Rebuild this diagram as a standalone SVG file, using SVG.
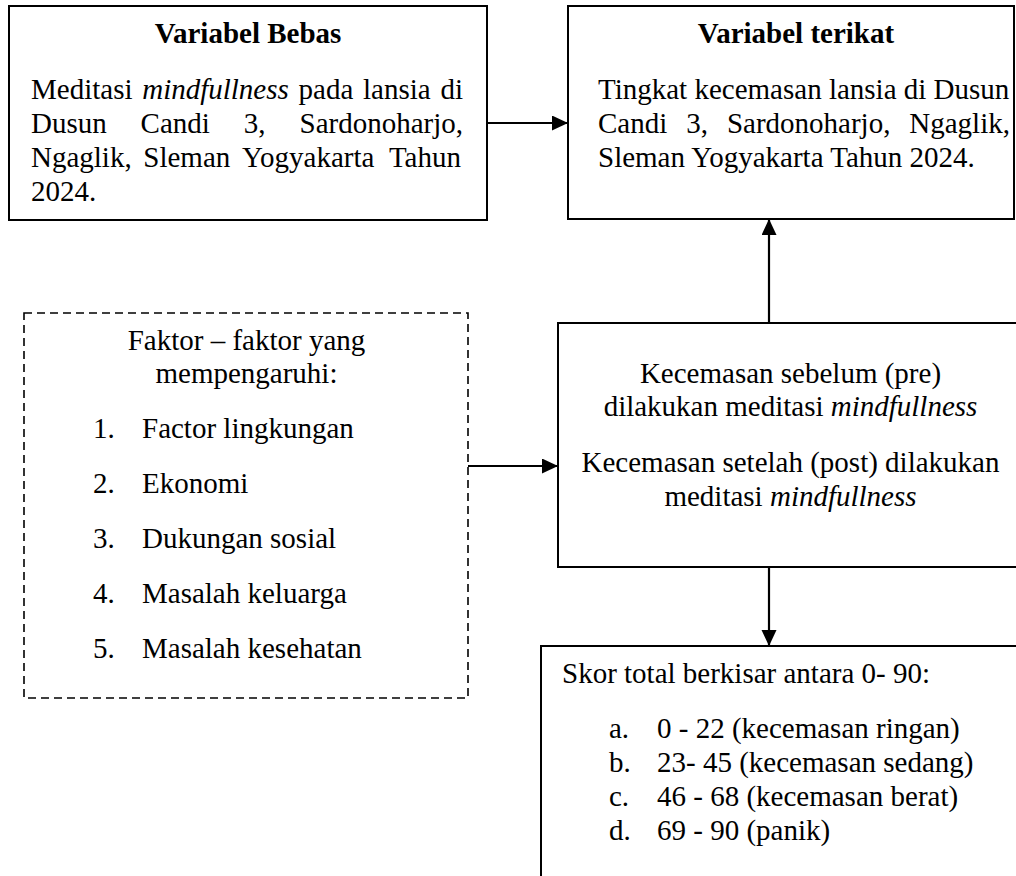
<svg xmlns="http://www.w3.org/2000/svg" width="1016" height="876" viewBox="0 0 1016 876">
<style>
text{font-family:"Liberation Serif","Times New Roman",serif;font-size:29px;fill:#000}
.b{font-weight:bold}
.i{font-style:italic}
.box{fill:#fff;stroke:#000;stroke-width:2}
.dash{fill:#fff;stroke:#000;stroke-width:1.6;stroke-dasharray:8 5}
.con{stroke:#000;stroke-width:2.2;fill:none;marker-end:url(#ah)}
</style>
<defs>
<marker id="ah" markerUnits="userSpaceOnUse" markerWidth="17" markerHeight="16" refX="16" refY="7.5" orient="auto">
<path d="M0,0 L16,7.5 L0,15 z" fill="#000"/>
</marker>
</defs>
<rect width="1016" height="876" fill="#fff"/>

<g id="variabel-bebas">
<rect class="box" x="9" y="6" width="478" height="214"/>
<text class="b" x="248" y="43" text-anchor="middle">Variabel Bebas</text>
<text y="99"><tspan x="31">Meditasi</tspan><tspan x="142.2" class="i">mindfullness</tspan><tspan x="298.6">pada</tspan><tspan x="363">lansia</tspan><tspan x="440.4">di</tspan></text>
<text y="133"><tspan x="31">Dusun</tspan><tspan x="140.6">Candi</tspan><tspan x="243.8">3,</tspan><tspan x="299.5">Sardonoharjo,</tspan></text>
<text y="167"><tspan x="31">Ngaglik,</tspan><tspan x="143.3">Sleman</tspan><tspan x="242">Yogyakarta</tspan><tspan x="388.9">Tahun</tspan></text>
<text x="31" y="201">2024.</text>
</g>

<g id="variabel-terikat">
<rect class="box" x="568" y="6" width="446" height="213"/>
<text class="b" x="796" y="43" text-anchor="middle">Variabel terikat</text>
<text x="598" y="99">Tingkat kecemasan lansia di Dusun</text>
<text y="133"><tspan x="598">Candi</tspan><tspan x="686.2">3,</tspan><tspan x="726.9">Sardonoharjo,</tspan><tspan x="909.3">Ngaglik,</tspan></text>
<text x="598" y="167">Sleman Yogyakarta Tahun 2024.</text>
</g>

<g id="faktor">
<rect class="dash" x="24" y="313" width="444" height="385"/>
<text x="246.5" y="350" text-anchor="middle">Faktor – faktor yang</text>
<text x="246.5" y="383" text-anchor="middle">mempengaruhi:</text>
<text y="438"><tspan x="93">1.</tspan><tspan x="142">Factor lingkungan</tspan></text>
<text y="493"><tspan x="93">2.</tspan><tspan x="142">Ekonomi</tspan></text>
<text y="548"><tspan x="93">3.</tspan><tspan x="142">Dukungan sosial</tspan></text>
<text y="603"><tspan x="93">4.</tspan><tspan x="142">Masalah keluarga</tspan></text>
<text y="658"><tspan x="93">5.</tspan><tspan x="142">Masalah kesehatan</tspan></text>
</g>

<g id="kecemasan">
<rect class="box" x="558" y="323" width="470" height="244"/>
<text x="790.5" y="383" text-anchor="middle">Kecemasan sebelum (pre)</text>
<text x="790.5" y="416" text-anchor="middle">dilakukan meditasi <tspan class="i">mindfullness</tspan></text>
<text x="790.5" y="472" text-anchor="middle">Kecemasan setelah (post) dilakukan</text>
<text x="790.5" y="506" text-anchor="middle">meditasi <tspan class="i">mindfullness</tspan></text>
</g>

<g id="skor">
<rect class="box" x="541" y="646" width="490" height="250"/>
<text x="562" y="683">Skor total berkisar antara 0- 90:</text>
<text y="738"><tspan x="609">a.</tspan><tspan x="657">0 - 22 (kecemasan ringan)</tspan></text>
<text y="772"><tspan x="609">b.</tspan><tspan x="657">23- 45 (kecemasan sedang)</tspan></text>
<text y="806"><tspan x="609">c.</tspan><tspan x="657">46 - 68 (kecemasan berat)</tspan></text>
<text y="840"><tspan x="609">d.</tspan><tspan x="657">69 - 90 (panik)</tspan></text>
</g>

<g id="connectors">
<line class="con" x1="487" y1="123" x2="568" y2="123"/>
<line class="con" x1="769" y1="323" x2="769" y2="219"/>
<line class="con" x1="468" y1="466" x2="558" y2="466"/>
<line class="con" x1="769" y1="567" x2="769" y2="646"/>
</g>
</svg>
